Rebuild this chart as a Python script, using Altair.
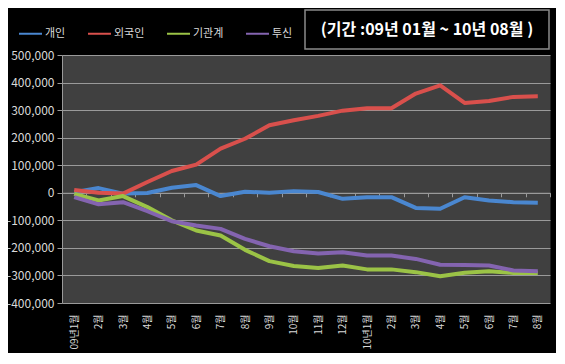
import altair as alt
import pandas as pd

# ---- data (thousand shares), 2009-01 .. 2010-08 ----
months = ["09년1월", "2월", "3월", "4월", "5월", "6월", "7월", "8월", "9월", "10월",
          "11월", "12월", "10년1월", "2월", "3월", "4월", "5월", "6월", "7월", "8월"]
series_names = ["개인", "외국인", "기관계", "투신"]
series_colors = ["#4a87d0", "#d9504c", "#9bc346", "#8464b0"]

individual = [2, 17, -3, -1, 18, 28, -12, 4, 0, 6, 3, -22, -16, -16, -55, -58, -16, -28, -34, -36]
foreign = [10, 0, -3, 39, 79, 102, 160, 196, 245, 263, 279, 298, 307, 307, 360, 390, 326, 333, 348, 350]
institution = [-4, -28, -12, -52, -100, -137, -155, -207, -248, -266, -273, -264, -278, -278, -288, -303, -290, -285, -291, -291]
trust = [-16, -42, -34, -67, -103, -119, -131, -167, -194, -212, -220, -216, -228, -228, -240, -261, -262, -264, -282, -285]

title_text = "(기간 :09년 01월 ~ 10년 08월 )"
y_ticks = [-400000, -300000, -200000, -100000, 0, 100000, 200000, 300000, 400000, 500000]

rows = []
for name, vals in zip(series_names, [individual, foreign, institution, trust]):
    for i, v in enumerate(vals):
        rows.append({"i": i, "series": name, "value": v * 1000})
df = pd.DataFrame(rows)

W, H = 488, 248
FONT = "Noto Sans CJK KR"
zero_px = H * 500000 / 900000

label_expr = "[" + ",".join("'" + m + "'" for m in months) + "][datum.value]"

lines = alt.Chart(df).mark_line(strokeWidth=4, strokeJoin="round").encode(
    x=alt.X("i:O", sort=None,
            scale=alt.Scale(paddingInner=0, paddingOuter=0),
            axis=alt.Axis(title=None, labelExpr=label_expr, labelAngle=270,
                          labelColor="#d9d9d9", labelFont=FONT, labelFontSize=10,
                          domainColor="#9a9a9a", tickColor="#9a9a9a", tickSize=4,
                          tickBand="extent", grid=False,
                          offset=-(H - zero_px), labelPadding=(H - zero_px) + 7)),
    y=alt.Y("value:Q",
            scale=alt.Scale(domain=[-400000, 500000], nice=False, zero=False),
            axis=alt.Axis(title=None, values=y_ticks,
                          labelExpr="(datum.value < 0 ? '-' : '') + format(abs(datum.value), ',')",
                          labelColor="#d9d9d9", labelFont=FONT, labelFontSize=12,
                          gridColor="#9a9a9a", gridWidth=1, domainColor="#9a9a9a",
                          tickColor="#9a9a9a", tickSize=5, labelPadding=3)),
    color=alt.Color("series:N",
                    scale=alt.Scale(domain=series_names, range=series_colors),
                    sort=series_names,
                    legend=alt.Legend(title=None, orient="none", direction="horizontal",
                                      legendX=-44, legendY=-34, symbolType="stroke",
                                      symbolSize=529, symbolStrokeWidth=2,
                                      labelColor="#d9d9d9", labelFont=FONT, labelFontSize=11,
                                      columnPadding=18, labelOffset=2)),
    order=alt.Order("i:O"),
)

tdf = pd.DataFrame({"t": [title_text]})
box = alt.Chart(tdf).mark_rect(fill="black", stroke="#8a8a8a", strokeWidth=1.5).encode(
    x=alt.value(243), x2=alt.value(487), y=alt.value(-45), y2=alt.value(-6))
title = alt.Chart(tdf).mark_text(color="white", fontSize=16, fontWeight="bold", font=FONT,
                                 align="center", baseline="middle").encode(
    x=alt.value(365), y=alt.value(-25), text="t:N")

chart = alt.layer(lines, box, title).properties(
    width=W, height=H,
    autosize=alt.AutoSizeParams(type="none"),
    padding={"left": 54, "top": 47, "right": 6, "bottom": 50},
    background="black",
).configure_view(fill="#404040", stroke="transparent")

chart.save("out.html", embed_options={"renderer": "svg", "actions": False})
